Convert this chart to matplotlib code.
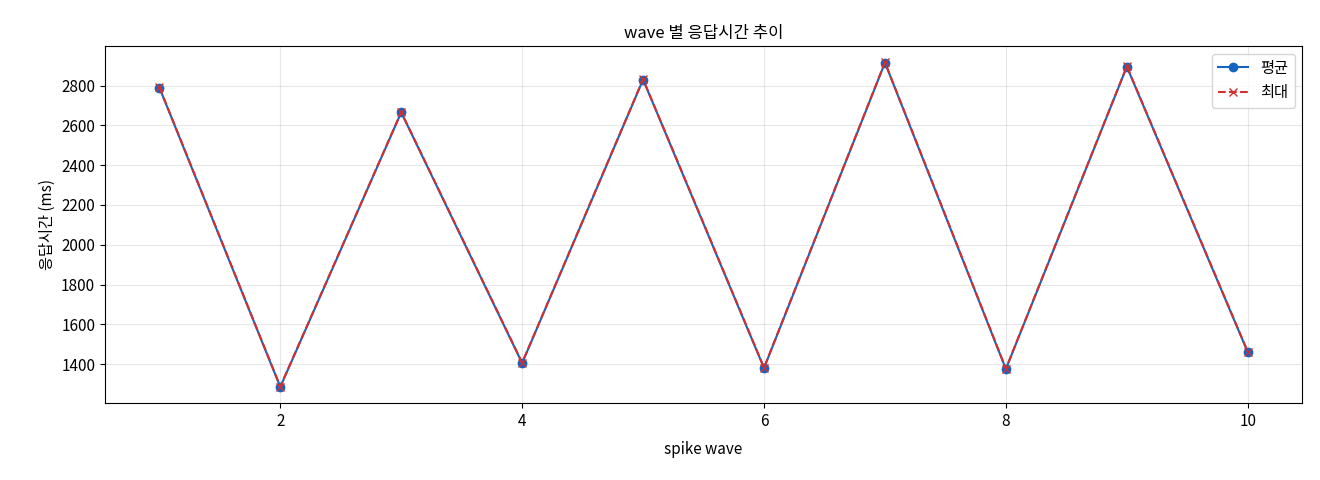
import matplotlib
matplotlib.use("Agg")
import matplotlib.pyplot as plt

plt.rcParams['font.family'] = ['Noto Sans CJK KR', 'DejaVu Sans']
plt.rcParams['font.size'] = 11

waves = [1, 2, 3, 4, 5, 6, 7, 8, 9, 10]
avg = [2790, 1285, 2665, 1405, 2830, 1380, 2915, 1375, 2895, 1460]
mx = [2792, 1287, 2667, 1407, 2832, 1382, 2917, 1377, 2897, 1462]

fig = plt.figure(figsize=(13.2, 4.8), dpi=100)
ax = fig.add_axes([0.0795, 0.16, 0.907, 0.744])
ax.plot(waves, avg, marker='o', color='#1565c0', label='평균')
ax.plot(waves, mx, marker='x', linestyle='--', color='#d32f2f', label='최대')
ax.set_title('wave 별 응답시간 추이', fontsize=12)
ax.set_xlabel('spike wave', labelpad=8)
ax.set_ylabel('응답시간 (ms)')
ax.grid(True, alpha=0.3)
ax.legend(loc='upper right')
fig.savefig('out.png', dpi=100)
